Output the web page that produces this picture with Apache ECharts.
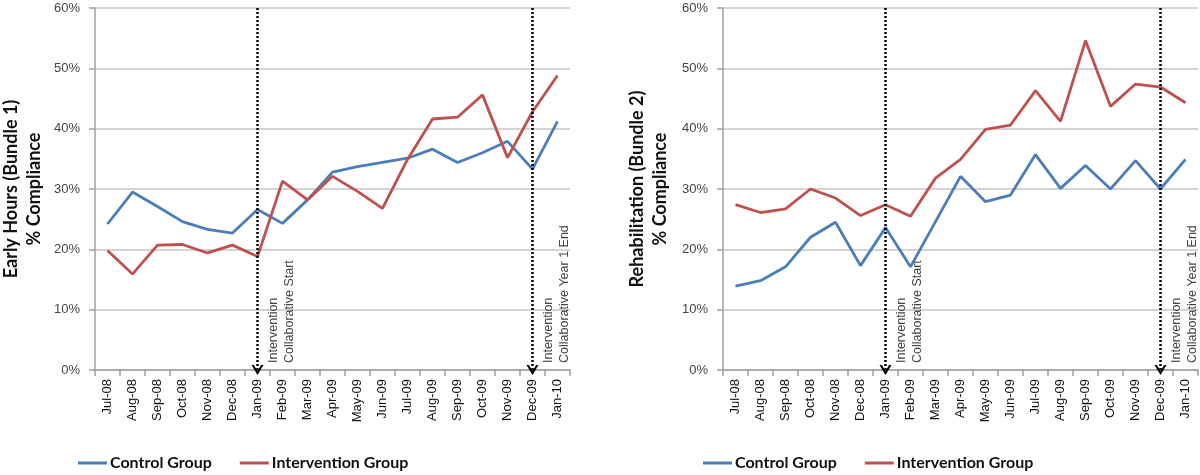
<!DOCTYPE html>
<html><head><meta charset="utf-8">
<script src="https://cdn.jsdelivr.net/npm/echarts@6/dist/echarts.min.js"></script>
<style>html,body{margin:0;padding:0;background:#fff}#c{width:1200px;height:475px}</style>
</head><body><div id="c"></div>
<script>
const months = ['Jul-08','Aug-08','Sep-08','Oct-08','Nov-08','Dec-08','Jan-09','Feb-09','Mar-09','Apr-09','May-09','Jun-09','Jul-09','Aug-09','Sep-09','Oct-09','Nov-09','Dec-09','Jan-10'];
const yTicks = [0,10,20,30,40,50,60];
const b1Control = [24.2,29.5,27.1,24.6,23.3,22.7,26.6,24.3,28.2,32.8,33.7,34.4,35.1,36.6,34.4,36.0,37.9,33.3,41.2];
const b1Intervention = [19.8,15.9,20.7,20.8,19.4,20.7,18.8,31.3,28.2,32.1,29.6,26.8,34.9,41.6,41.9,45.6,35.2,42.8,48.8];
const b2Control = [13.9,14.8,17.1,22.0,24.5,17.3,23.6,17.1,24.6,32.1,27.9,29.0,35.7,30.1,33.9,30.0,34.7,30.0,34.9];
const b2Intervention = [27.4,26.1,26.7,30.0,28.5,25.6,27.4,25.5,31.8,34.9,39.9,40.6,46.3,41.2,54.6,43.7,47.4,46.9,44.3];
const yTitles = ['Early Hours (Bundle 1)\n% Compliance','Rehabilitation (Bundle 2)\n% Compliance'];
const seriesNames = ['Control Group','Intervention Group'];
const markers = [
  {month:'Jan-09', text:'Intervention\nCollaborative Start'},
  {month:'Dec-09', text:'Intervention\nCollaborative Year 1 End'}
];

const BLUE = '#4a7ebb', RED = '#c0504d';
const FONT = 'Lato, "Liberation Sans", sans-serif';
const LFONT = '"Liberation Sans", sans-serif';
const chevron = 'path://M0,10 L5,0 L10,10 L8,10 L5,4 L2,10 Z';

const grids = [
  {left:95, top:8, width:475, height:362, containLabel:false, outerBoundsMode:'none'},
  {left:723, top:8, width:475, height:362, containLabel:false, outerBoundsMode:'none'}
];
const nameGaps = [49, 51];
function xAx(i){return {type:'category', gridIndex:i, data:months, boundaryGap:true,
  axisLine:{lineStyle:{color:'#a0a0a0', width:1.5}},
  axisTick:{show:true, length:6, inside:false, alignWithLabel:false, lineStyle:{color:'#a0a0a0', width:1.5}},
  axisLabel:{rotate:90, interval:0, margin:9, fontSize:13, color:'#111', fontFamily:LFONT}};}
function yAx(i){return {type:'value', gridIndex:i, min:0, max:60, interval:10,
  name:yTitles[i], nameLocation:'middle', nameGap:nameGaps[i], nameRotate:90,
  nameTextStyle:{fontSize:18, fontWeight:'bold', color:'#111', fontFamily:FONT, lineHeight:23},
  axisLine:{show:true, lineStyle:{color:'#a0a0a0', width:1.5}},
  axisTick:{show:true, length:6, lineStyle:{color:'#a0a0a0', width:1.5}},
  axisLabel:{formatter:'{value}%', fontSize:13, color:'#444', margin:15, fontFamily:LFONT},
  splitLine:{show:true, lineStyle:{color:'#c6c6c6', width:1.5}}};}

function mk(){
  return {silent:true, symbolSize:[12,10], lineStyle:{type:[2,2], color:'#000', width:2.5}, label:{show:false},
    data: markers.map(m=>[{coord:[m.month,0], symbol:chevron},{coord:[m.month,60], symbol:'none'}])};
}
function line(name, data, color, i, withMark){
  const s = {name, type:'line', xAxisIndex:i, yAxisIndex:i, data, symbol:'none', smooth:false,
    lineStyle:{color, width:2.8}, itemStyle:{color}, z:3};
  if(withMark){ s.markLine = mk(); }
  return s;
}

const chart = echarts.init(document.getElementById('c'), null, {renderer:'canvas'});
const legendCommon = {icon:'rect', itemWidth:29, itemHeight:3, itemGap:28, bottom:-1,
  textStyle:{fontSize:16, fontWeight:'bold', color:'#111', fontFamily:FONT, padding:[0,0,0,-2]}, data:seriesNames, selectedMode:false};
chart.setOption({
  animation:false,
  grid:grids,
  xAxis:[xAx(0), xAx(1)],
  yAxis:[yAx(0), yAx(1)],
  legend:[Object.assign({left:73}, legendCommon), Object.assign({left:698}, legendCommon)],
  series:[
    line(seriesNames[0], b1Control, BLUE, 0, true),
    line(seriesNames[1], b1Intervention, RED, 0, false),
    line(seriesNames[0], b2Control, BLUE, 1, true),
    line(seriesNames[1], b2Intervention, RED, 1, false)
  ]
});

// annotation texts placed with the chart's own scales
const g = [];
[0,1].forEach(i=>{
  markers.forEach(m=>{
    const p = chart.convertToPixel({gridIndex:i}, [m.month, 0]);
    g.push({type:'text', x:p[0]+8, y:p[1]-7, rotation:Math.PI/2,
      style:{text:m.text, fill:'#444', fontSize:12.5, lineHeight:16, align:'left', verticalAlign:'top', fontFamily:LFONT}});
  });
});
chart.setOption({graphic:g});
</script></body></html>
